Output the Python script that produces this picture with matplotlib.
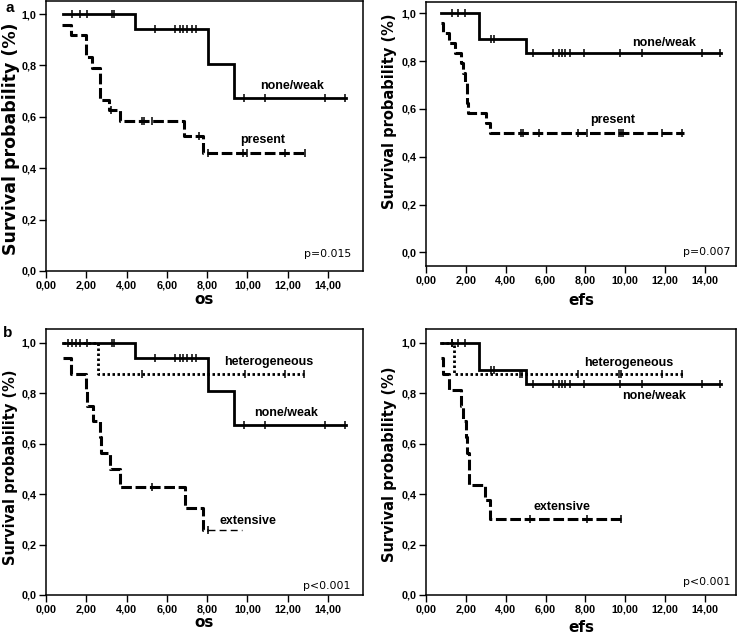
import numpy as np
import matplotlib
matplotlib.use('Agg')
import matplotlib.pyplot as plt

# ---- data (time, survival after each step) ----
xtick_vals = [0, 2, 4, 6, 8, 10, 12, 14]
xtick_labels = ['0,00', '2,00', '4,00', '6,00', '8,00', '10,00', '12,00', '14,00']
ytick_vals = [0.0, 0.2, 0.4, 0.6, 0.8, 1.0]
ytick_labels = ['0,0', '0,2', '0,4', '0,6', '0,8', '1,0']

# panel a: os, none/weak vs present
nw_os_t = [0.83, 4.43, 8.06, 9.35]
nw_os_s = [1.0, 0.941, 0.807, 0.672]
nw_os_end = 14.9
nw_os_cens = [1.27, 1.69, 2.02, 3.26, 3.39, 5.41, 6.41, 6.65, 6.82, 6.99, 7.23, 7.45,
              9.85, 10.87, 13.85, 14.85]

pr_os_t = [0.81, 1.22, 1.97, 2.30, 2.68, 3.13, 3.67, 6.87, 7.78]
pr_os_s = [0.958, 0.917, 0.833, 0.792, 0.667, 0.625, 0.583, 0.525, 0.459]
pr_os_end = 12.86
pr_os_cens = [3.23, 4.78, 4.88, 5.25, 7.58, 8.06, 9.80, 9.96, 11.87, 12.86]

# panel a (right): efs, none/weak vs present
nw_efs_t = [0.74, 2.67, 5.04]
nw_efs_s = [1.0, 0.892, 0.835]
nw_efs_end = 14.8
nw_efs_cens = [1.29, 1.63, 1.96, 3.26, 3.39, 5.37, 6.38, 6.66, 6.83, 7.00, 7.25, 7.92,
               9.73, 10.86, 13.85, 14.77]

pr_efs_t = [0.74, 0.84, 1.16, 1.46, 1.75, 1.85, 1.97, 2.05, 2.13, 3.0, 3.19]
pr_efs_s = [0.958, 0.917, 0.875, 0.833, 0.792, 0.75, 0.708, 0.625, 0.583, 0.542, 0.5]
pr_efs_end = 12.96
pr_efs_cens = [4.78, 4.87, 5.65, 7.64, 8.06, 9.68, 9.80, 9.88, 11.83, 12.87]

# panel b: os, none/weak vs heterogeneous vs extensive
het_os_t = [0.83, 2.6]
het_os_s = [1.0, 0.875]
het_os_end = 12.81
het_os_cens = [1.1, 1.5, 4.75, 9.88, 11.87, 12.81]

ext_os_t = [0.83, 1.24, 1.97, 2.02, 2.32, 2.68, 2.75, 3.18, 3.67, 6.9, 7.81]
ext_os_s = [0.9375, 0.875, 0.8125, 0.75, 0.6875, 0.625, 0.5625, 0.5, 0.4286, 0.343, 0.257]
ext_os_end = 8.06
ext_os_tail = 9.72
ext_os_cens = [5.25, 8.06]

# panel b (right): efs, three groups
het_efs_t = [0.74, 1.41]
het_efs_s = [1.0, 0.875]
het_efs_end = 12.96
het_efs_cens = [1.3, 4.70, 4.82, 7.64, 9.68, 9.80, 11.83, 12.87]

ext_efs_t = [0.74, 0.86, 1.16, 1.75, 1.85, 2.03, 2.08, 2.17, 2.97, 3.22]
ext_efs_s = [0.9375, 0.875, 0.8125, 0.75, 0.6875, 0.625, 0.5625, 0.4375, 0.375, 0.30]
ext_efs_end = 9.77
ext_efs_cens = [5.24, 8.06, 9.77]

SOLID = '-'
DASHED = (0, (3.5, 1.2))
DOTTED = (0, (0.9, 0.9))


def km_curve(ax, t, s, end, cens, ls, lw=2.2):
    xs = list(t) + [end]
    ys = list(s) + [s[-1]]
    ax.step(xs, ys, where='post', color='black', lw=lw, linestyle=ls,
            solid_joinstyle='miter', zorder=3)
    # censor marks sit on the step level at that time
    idx = np.searchsorted(t, cens, side='right') - 1
    cy = np.array(s)[np.clip(idx, 0, None)]
    ax.plot(cens, cy, linestyle='none', marker='|', color='black',
            markersize=5.5, markeredgewidth=1.1, zorder=4)


def style_axes(ax, xlim, ylim, xlabel, xl_y, yl_x, yl_y, yl_size):
    ax.set_xlim(*xlim)
    ax.set_ylim(*ylim)
    ax.set_xticks(xtick_vals)
    ax.set_xticklabels(xtick_labels)
    ax.set_yticks(ytick_vals)
    ax.set_yticklabels(ytick_labels)
    ax.tick_params(direction='out', length=5, width=1, pad=2, labelsize=7.8)
    for lab in ax.get_xticklabels() + ax.get_yticklabels():
        lab.set_fontfamily('Liberation Sans')
        lab.set_fontweight('bold')
    for sp in ax.spines.values():
        sp.set_linewidth(1.1)
    ax.set_xlabel(xlabel, fontsize=11, fontweight='bold', family='DejaVu Sans')
    ax.xaxis.label.set_va('center')
    ax.xaxis.set_label_coords(0.5, xl_y)
    ax.set_ylabel('Survival probability (%)', fontsize=yl_size, fontweight='bold',
                  family='DejaVu Sans')
    ax.yaxis.label.set_va('center')
    ax.yaxis.set_label_coords(yl_x, yl_y)


def label(ax, x, y, txt):
    ax.text(x, y, txt, ha='center', va='center', fontsize=9, fontweight='bold',
            family='Liberation Sans', zorder=5)


def pval(ax, x, y, txt):
    ax.text(x, y, txt, ha='right', va='center', fontsize=7.8, family='DejaVu Sans',
            transform=ax.transAxes)


def main() -> None:
    W, H = 738, 634
    fig = plt.figure(figsize=(W / 100, H / 100), dpi=100)

    def box(l, r, t, b):
        return [l / W, 1 - b / H, (r - l) / W, (b - t) / H]

    ax_a = fig.add_axes(box(46, 363, 0.5, 271))
    ax_b = fig.add_axes(box(426, 736, 2, 266))
    ax_c = fig.add_axes(box(46, 363, 329, 595))
    ax_d = fig.add_axes(box(426, 736, 329, 595))

    # top left: os
    km_curve(ax_a, nw_os_t, nw_os_s, nw_os_end, nw_os_cens, SOLID, lw=2.0)
    km_curve(ax_a, pr_os_t, pr_os_s, pr_os_end, pr_os_cens, DASHED)
    style_axes(ax_a, (0, 15.74), (0, 1.053), 'os', -0.107, -0.110, 0.488, 12.5)
    label(ax_a, 12.2, 0.72, 'none/weak')
    label(ax_a, 10.77, 0.51, 'present')
    pval(ax_a, 0.962, 0.063, 'p=0.015')

    # top right: efs
    km_curve(ax_b, nw_efs_t, nw_efs_s, nw_efs_end, nw_efs_cens, SOLID, lw=2.0)
    km_curve(ax_b, pr_efs_t, pr_efs_s, pr_efs_end, pr_efs_cens, DASHED)
    style_axes(ax_b, (0, 15.56), (-0.057, 1.047), 'efs', -0.129, -0.119, 0.587, 10.5)
    label(ax_b, 11.93, 0.877, 'none/weak')
    label(ax_b, 9.37, 0.553, 'present')
    pval(ax_b, 0.983, 0.053, 'p=0.007')

    # bottom left: os, three groups
    km_curve(ax_c, nw_os_t, nw_os_s, nw_os_end, nw_os_cens, SOLID, lw=2.0)
    km_curve(ax_c, het_os_t, het_os_s, het_os_end, het_os_cens, DOTTED, lw=2.0)
    km_curve(ax_c, ext_os_t, ext_os_s, ext_os_end, ext_os_cens, DASHED)
    ax_c.plot([ext_os_end, ext_os_tail], [ext_os_s[-1], ext_os_s[-1]], color='black',
              lw=1.0, linestyle=(0, (5, 3)), zorder=3)
    style_axes(ax_c, (0, 15.74), (0, 1.054), 'os', -0.105, -0.113, 0.48, 10.5)
    label(ax_c, 11.07, 0.923, 'heterogeneous')
    label(ax_c, 11.92, 0.721, 'none/weak')
    label(ax_c, 10.03, 0.293, 'extensive')
    pval(ax_c, 0.961, 0.034, 'p<0.001')

    # bottom right: efs, three groups
    km_curve(ax_d, nw_efs_t, nw_efs_s, nw_efs_end, nw_efs_cens, SOLID, lw=2.0)
    km_curve(ax_d, het_efs_t, het_efs_s, het_efs_end, het_efs_cens, DOTTED, lw=2.0)
    km_curve(ax_d, ext_efs_t, ext_efs_s, ext_efs_end, ext_efs_cens, DASHED)
    style_axes(ax_d, (0, 15.56), (0, 1.054), 'efs', -0.124, -0.119, 0.49, 10.5)
    label(ax_d, 10.17, 0.921, 'heterogeneous')
    label(ax_d, 11.43, 0.787, 'none/weak')
    label(ax_d, 6.80, 0.348, 'extensive')
    pval(ax_d, 0.983, 0.049, 'p<0.001')

    # panel letters
    fig.text(10 / W, 1 - 8.5 / H, 'a', ha='center', va='center', fontsize=11,
             fontweight='bold', family='Liberation Sans')
    fig.text(7.5 / W, 1 - 333 / H, 'b', ha='center', va='center', fontsize=11,
             fontweight='bold', family='Liberation Sans')

    fig.savefig('out.png', dpi=100)


if __name__ == "__main__":
    main()
